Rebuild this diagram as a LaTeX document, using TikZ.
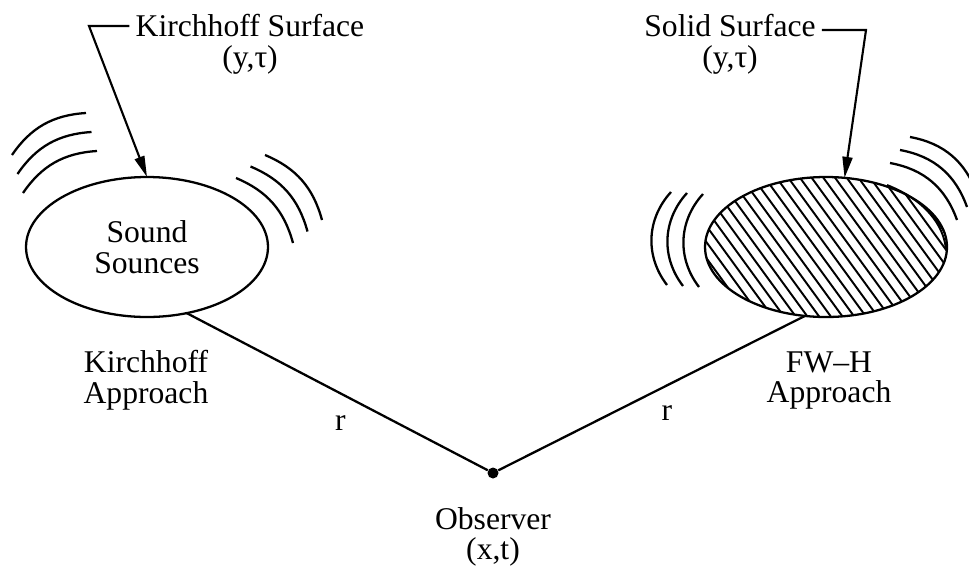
\documentclass[tikz,border=0pt]{standalone}
\usepackage{fontspec}
\setmainfont{Liberation Serif}
\usepackage{tikz}
\usetikzlibrary{shapes.geometric,arrows.meta,positioning}

\begin{document}
\begin{tikzpicture}[
    x=0.02cm, y=0.02cm,
    every node/.style={font=\fontsize{18}{17.6}\selectfont},
    src/.style={draw, ellipse, line width=1.3pt, inner sep=0pt, outer sep=0pt, minimum width=4.84cm, minimum height=2.8cm, align=center},
    lbl/.style={align=center},
    rlbl/.style={inner sep=0pt},
    dot/.style={circle, fill, inner sep=0pt, minimum size=0.22cm},
    link/.style={line width=1.3pt},
    leader/.style={line width=1.2pt, -{Triangle[length=0.42cm, width=0.2cm]}},
    wave/.style={line width=1.3pt},
    hatch/.style={line width=1.1pt}
  ]
    \useasboundingbox (0,0) rectangle (969,-572);
    \node[src] (kirch) at (147,-247) {Sound\\Sounces};
    \node[src] (solid) at (826,-247) {};
    % hatching of the solid body
    \begin{scope}
      \clip (826,-247) ellipse [x radius=121, y radius=70];
      \foreach \k in {-13,...,17}
        \draw[hatch] ({803.6+11.7*\k-59},-166) -- ({803.6+11.7*\k+59},-328);
    \end{scope}
    \draw[hatch] (887,-185) .. controls (925,-200) and (944,-225) .. (946,-250);
    \node[lbl] (kirchlbl) at (250,-44) {Kirchhoff Surface\\(y,τ)};
    \node[lbl] (solidlbl) at (730,-44) {Solid Surface\\(y,τ)};
    \node[lbl] (kirchapp) at (146,-380.5) {Kirchhoff\\Approach};
    \node[lbl] (fwhapp) at (829,-380.5) {FW–H\\Approach};
    \node[dot] (obs) at (493,-473) {};
    \node[lbl, below=0.44cm of obs] (obslbl) {Observer\\(x,t)};
    \coordinate (kcorner) at (89,-26);
    \coordinate (scorner) at (866,-30);
    \draw[leader] (kirchlbl.west |- kcorner) -- (kcorner) -- (kirch.north);
    \draw[leader] (solidlbl.east |- scorner) -- (scorner) -- (solid.75);
    \draw[link] (kirch.301) -- node[rlbl, pos=.51, below=0.42cm] {r} (obs);
    \draw[link] (obs) -- node[rlbl, pos=.55, below=0.39cm] {r} (solid.253);
    % sound waves
    \foreach \i in {0,1,2} {
      \draw[wave] ({86+5.5*\i},{-113-19*\i}) to[bend right=26] ({12+5.5*\i},{-155-19*\i});
      \draw[wave] ({265-14.5*\i},{-155-11.5*\i}) to[bend left=26] ({322-14.5*\i},{-220-11.5*\i});
      \draw[wave] ({671+16*\i},{-192-\i}) to[bend right=40] ({667+16*\i},{-285-\i});
      \draw[wave] ({890+10*\i},{-163+13*\i}) to[bend left=30] ({957+10*\i},{-220+13*\i});
    }
\end{tikzpicture}
\end{document}
